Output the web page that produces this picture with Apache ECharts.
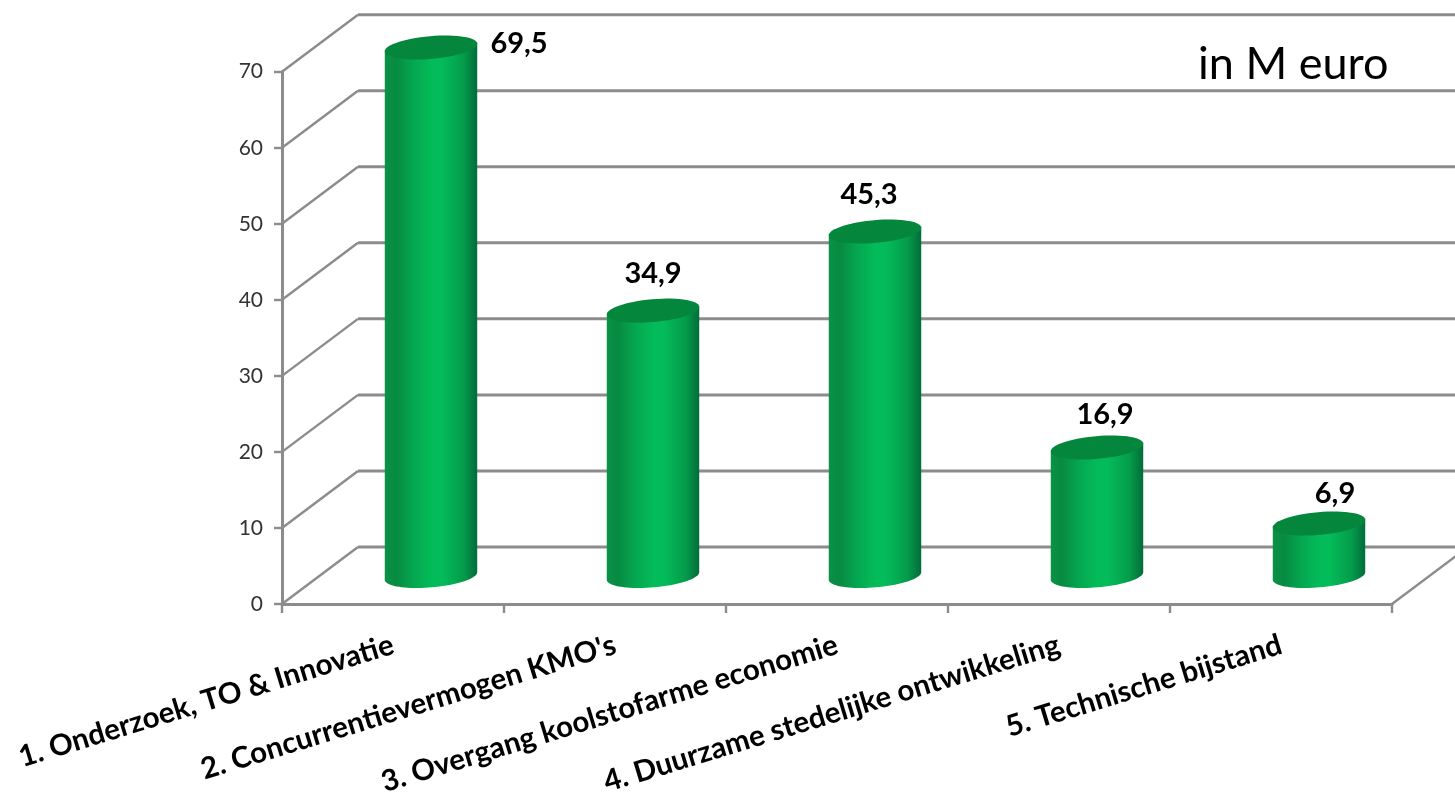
<!DOCTYPE html>
<html><head><meta charset="utf-8">
<style>html,body{margin:0;padding:0;background:#fff}#c{width:1455px;height:796px}</style>
<script src="https://cdn.jsdelivr.net/npm/echarts@6/dist/echarts.min.js"></script>
</head><body><div id="c"></div>
<script>
const categories = ["1. Onderzoek, TO & Innovatie","2. Concurrentievermogen KMO's","3. Overgang koolstofarme economie","4. Duurzame stedelijke ontwikkeling","5. Technische bijstand"];
const values = [69.5,34.9,45.3,16.9,6.9];
const ticks = [0,10,20,30,40,50,60,70];
const labelShiftX = [88,0,-6,8,16];
const labelShiftY = [-4,-37,-37,-33,-30];

const WALL_DX = 76, WALL_DY = -57, MID_DX = 38, MID_DY = -28;
const GRAY = '#8c8c8c';
const TILT = -5 * Math.PI / 180;
const FONT = 'Lato';

function ellipsePts(cx, cy, rx, ry, from, to, n) {
  const pts = [];
  for (let i = 0; i <= n; i++) {
    const t = from + (to - from) * i / n;
    pts.push([
      cx + rx * Math.cos(t) * Math.cos(TILT) - ry * Math.sin(t) * Math.sin(TILT),
      cy + rx * Math.cos(t) * Math.sin(TILT) + ry * Math.sin(t) * Math.cos(TILT)
    ]);
  }
  return pts;
}

function renderWall(params, api) {
  const cs = params.coordSys;
  const y = api.coord([0, api.value(1)])[1];
  const l = {stroke: GRAY, lineWidth: 3};
  const children = [
    {type:'line', shape:{x1:cs.x, y1:y, x2:cs.x+WALL_DX, y2:y+WALL_DY}, style:{stroke:GRAY, lineWidth:2.4}},
    {type:'line', shape:{x1:cs.x+WALL_DX, y1:y+WALL_DY, x2:cs.x+cs.width+WALL_DX, y2:y+WALL_DY}, style:l}
  ];
  if (api.value(1) === ticks[0]) {
    children.push({type:'line', shape:{x1:cs.x+cs.width, y1:y, x2:cs.x+cs.width+WALL_DX, y2:y+WALL_DY}, style:{stroke:GRAY, lineWidth:2.4}});
  }
  return {type:'group', children};
}

function renderCylinder(params, api) {
  const base = api.coord([api.value(0), 0]);
  const top = api.coord([api.value(0), api.value(1)]);
  const rx = api.size([1, 0])[0] * 0.209;
  const ry = rx * 0.245;
  const cx = base[0] + MID_DX;
  const by = base[1] + MID_DY;
  const ty = top[1] + MID_DY;
  const bottomHalf = ellipsePts(cx, by, rx, ry, 0, Math.PI, 40);
  const topEnds = ellipsePts(cx, ty, rx, ry, Math.PI, 0, 1);
  const grad = new echarts.graphic.LinearGradient(0,0,1,0,[
    {offset:0, color:'#0a9246'},{offset:0.12, color:'#078a42'},{offset:0.3, color:'#05a650'},
    {offset:0.5, color:'#03bb58'},{offset:0.62, color:'#03bb58'},{offset:0.85, color:'#049c4b'},{offset:1, color:'#036c3a'}
  ]);
  return {type:'group', children:[
    {type:'polygon', shape:{points: bottomHalf.concat(topEnds)}, style:{fill:grad}},
    {type:'polygon', shape:{points: ellipsePts(cx, ty, rx, ry, 0, Math.PI*2, 60)}, style:{fill:'#04863c'}}
  ]};
}

function renderLabel(params, api) {
  const i = params.dataIndex;
  const top = api.coord([api.value(0), api.value(1)]);
  return {type:'text', style:{
    x: top[0] + MID_DX + labelShiftX[i], y: top[1] + MID_DY + labelShiftY[i],
    text: String(api.value(1)).replace('.', ','),
    font: 'bold 29px ' + FONT, fill:'#000', textAlign:'center', textVerticalAlign:'middle'
  }};
}

const chart = echarts.init(document.getElementById('c'), null, {renderer:'canvas'});
chart.setOption({
  animation:false,
  backgroundColor:'#fff',
  grid:{left:282, right:63, top:71.7, bottom:192, containLabel:false, outerBoundsMode:'none'},
  title:{text:'in M euro', left:1193, top:37, textStyle:{fontFamily:FONT, fontWeight:'normal', fontSize:45, color:'#000'}},
  xAxis:{type:'category', data:categories, boundaryGap:true,
    axisLine:{lineStyle:{color:GRAY, width:3}},
    axisTick:{show:true, length:9, alignWithLabel:false, lineStyle:{color:GRAY, width:2.4}},
    axisLabel:{rotate:17, interval:0, margin:40, fontFamily:FONT, fontWeight:'bold', fontSize:29.5, color:'#000'},
    splitLine:{show:false}},
  yAxis:{type:'value', min:0, max:70, interval:10,
    axisLine:{show:true, lineStyle:{color:GRAY, width:3}},
    axisTick:{show:true, length:8, lineStyle:{color:GRAY, width:2.4}},
    axisLabel:{margin:19, fontFamily:FONT, fontSize:21, color:'#333', padding:[6,0,0,0]},
    splitLine:{show:false}},
  series:[
    {type:'custom', name:'wall', z:1, clip:false, silent:true, renderItem:renderWall, data:ticks.map(t=>[0,t]), encode:{x:0,y:1}},
    {type:'custom', name:'M euro', z:3, clip:false, renderItem:renderCylinder, data:values.map((v,i)=>[i,v]), encode:{x:0,y:1}},
    {type:'custom', name:'labels', z:4, clip:false, silent:true, renderItem:renderLabel, data:values.map((v,i)=>[i,v]), encode:{x:0,y:1}}
  ]
});
</script></body></html>
